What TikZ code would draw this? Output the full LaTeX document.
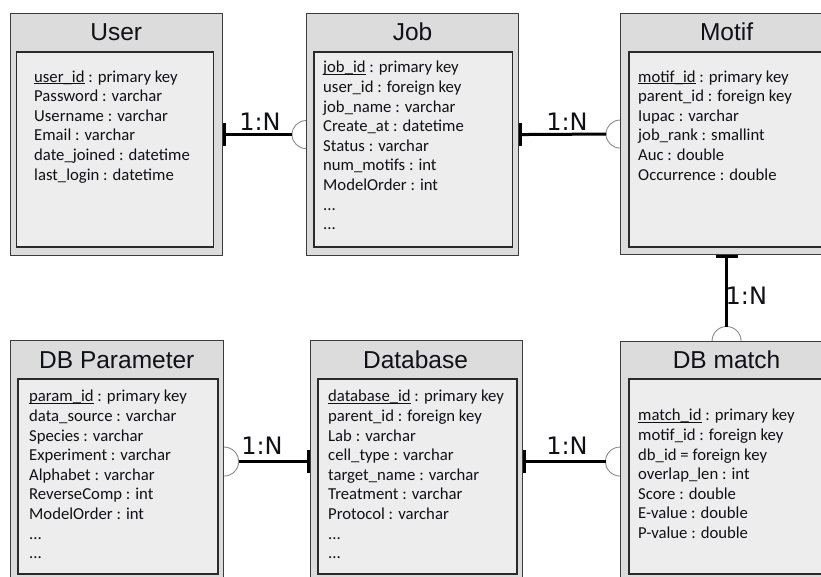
\documentclass[tikz,border=0pt]{standalone}
\usepackage{fontspec}
\newfontfamily\attrfamily{Carlito}
\newfontfamily\headfamily{Liberation Sans}
\newfontfamily\labfamily{DejaVu Sans}
\usetikzlibrary{calc,backgrounds}
\definecolor{outerfill}{HTML}{DCDCDC}
\definecolor{innerfill}{HTML}{EDEDED}
\definecolor{boxline}{HTML}{3C3C3C}
\definecolor{innerline}{HTML}{2A2A2A}
\definecolor{arcline}{HTML}{8A8A8A}
\definecolor{txt}{HTML}{101018}
\newcommand\keyul[1]{\setbox0\hbox{#1}\rlap{\rule[-1.9pt]{\wd0}{0.8pt}}\box0\relax}
\newcommand\tdots{...}
\newcommand\attrs[4]{\foreach \t [count=\i] in {#4} {\node[attr] (#1-\i) at (#2, {#3+19.65*(\i-1)}) {\t};}}
\begin{document}
\begin{tikzpicture}[x=1pt,y=-1pt,
  outerbox/.style={draw=boxline, line width=1.1pt, fill=outerfill, anchor=north west, inner sep=0, rectangle},
  innerbox/.style={draw=innerline, line width=1.5pt, fill=innerfill, anchor=north west, inner sep=0, rectangle},
  title/.style={anchor=base, inner sep=0, text=txt, font=\headfamily\fontsize{24.5}{28}\selectfont},
  attr/.style={anchor=base west, inner sep=0, text=txt, font=\attrfamily\fontsize{16.7}{19}\selectfont},
  lab/.style={anchor=base, inner sep=0, text=txt, font=\labfamily\fontsize{24}{28}\selectfont},
  rel/.style={draw=black, line width=3pt},
  barst/.style={draw=black, line width=3pt},
  arcst/.style={draw=arcline, line width=0.9pt}]
\useasboundingbox (0,0) rectangle (821,576);
\clip (0,0) rectangle (821,576);

% boxes
\node[outerbox, minimum width=212.5pt, minimum height=242pt] (user) at (9.5,13) {};
\node[innerbox, minimum width=197pt, minimum height=195pt] (userin) at (15.5,51) {};
\node[outerbox, minimum width=212pt, minimum height=242pt] (job) at (306,13) {};
\node[innerbox, minimum width=198.5pt, minimum height=195pt] (jobin) at (313,51) {};
\node[outerbox, minimum width=212pt, minimum height=241pt] (motif) at (620,13) {};
\node[innerbox, minimum width=194pt, minimum height=195pt] (motifin) at (628,51) {};
\node[outerbox, minimum width=213.5pt, minimum height=242pt] (dbparam) at (9.5,340) {};
\node[innerbox, minimum width=200pt, minimum height=195pt] (dbparamin) at (17,378) {};
\node[outerbox, minimum width=212pt, minimum height=242pt] (database) at (310,340) {};
\node[innerbox, minimum width=199pt, minimum height=195pt] (databasein) at (317,378) {};
\node[outerbox, minimum width=212pt, minimum height=240pt] (dbmatch) at (620,341) {};
\node[innerbox, minimum width=194pt, minimum height=195pt] (dbmatchin) at (628,378) {};

% titles
\node[title] (usertitle) at ($(user.north)+(0,27.7)$) {User};
\node[title] (jobtitle) at ($(job.north)+(0,27.7)$) {Job};
\node[title] (motiftitle) at ($(motif.north)+(0,27.7)$) {Motif};
\node[title] (dbparamtitle) at ($(dbparam.north)+(0,28.3)$) {DB Parameter};
\node[title] (databasetitle) at ($(database.north)+(-1,28.3)$) {Database};
\node[title] (dbmatchtitle) at ($(dbmatch.north)+(0,27.3)$) {DB match};

% attributes
\attrs{ua}{34}{82}{{\keyul{user\_id} : primary key},{Password : varchar},{Username : varchar},{Email : varchar},{date\_joined : datetime},{last\_login : datetime}}
\attrs{ja}{323}{72.7}{{\keyul{job\_id} : primary key},{user\_id : foreign key},{job\_name : varchar},{Create\_at : datetime},{Status : varchar},{num\_motifs : int},{ModelOrder : int},{\tdots},{\tdots}}
\attrs{ma}{638}{82}{{\keyul{motif\_id} : primary key},{parent\_id : foreign key},{Iupac : varchar},{job\_rank : smallint},{Auc : double},{Occurrence : double}}
\attrs{pa}{29}{401.7}{{\keyul{param\_id} : primary key},{data\_source : varchar},{Species : varchar},{Experiment : varchar},{Alphabet : varchar},{ReverseComp : int},{ModelOrder : int},{\tdots},{\tdots}}
\attrs{da}{328}{401.7}{{\keyul{database\_id} : primary key},{parent\_id : foreign key},{Lab : varchar},{cell\_type : varchar},{target\_name : varchar},{Treatment : varchar},{Protocol : varchar},{\tdots},{\tdots}}
\attrs{dm}{638}{420.7}{{\keyul{match\_id} : primary key},{motif\_id : foreign key},{db\_id = foreign key},{overlap\_len : int},{Score : double},{E-value : double},{P-value : double}}

% connector circles (behind the boxes)
\begin{scope}[on background layer]
\draw[arcst] (job.west) circle[radius=14];
\draw[arcst] (motif.west) circle[radius=14];
\draw[arcst] (dbmatch.north) circle[radius=14.5];
\draw[arcst] (dbparam.east) circle[radius=14.5];
\draw[arcst] (dbmatch.west) circle[radius=14.5];
\end{scope}

% User - Job
\draw[rel] (user.east) -- ($(job.west)+(-14,0)$);
\draw[barst] ($(user.east)+(1.5,-11.5)$) -- ($(user.east)+(1.5,11.5)$);
% Job - Motif
\draw[rel] (job.east) -- ($(motif.west)+(-14,0)$);
\draw[barst] ($(job.east)+(1.5,-11.5)$) -- ($(job.east)+(1.5,11.5)$);
% Motif - DB match
\draw[rel] (motif.south) -- ($(dbmatch.north)+(0,-14.5)$);
\draw[barst] ($(motif.south)+(-11,1.5)$) -- ($(motif.south)+(11,1.5)$);
% DB Parameter - Database
\draw[rel] ($(dbparam.east)+(14.5,0)$) -- (database.west);
\draw[barst] ($(database.west)+(-1.5,-11.5)$) -- ($(database.west)+(-1.5,11.5)$);
% Database - DB match
\draw[rel] (database.east) -- ($(dbmatch.west)+(-14.5,0)$);
\draw[barst] ($(database.east)+(1.5,-11.5)$) -- ($(database.east)+(1.5,11.5)$);

% labels
\node[lab] (l1) at (260,130.7) {1:N};
\node[lab] (l2) at (567,130.7) {1:N};
\node[lab, anchor=base west] (l3) at (725.5,304) {1:N};
\node[lab] (l4) at (262,454) {1:N};
\node[lab] (l5) at (567,454) {1:N};
\end{tikzpicture}
\end{document}
